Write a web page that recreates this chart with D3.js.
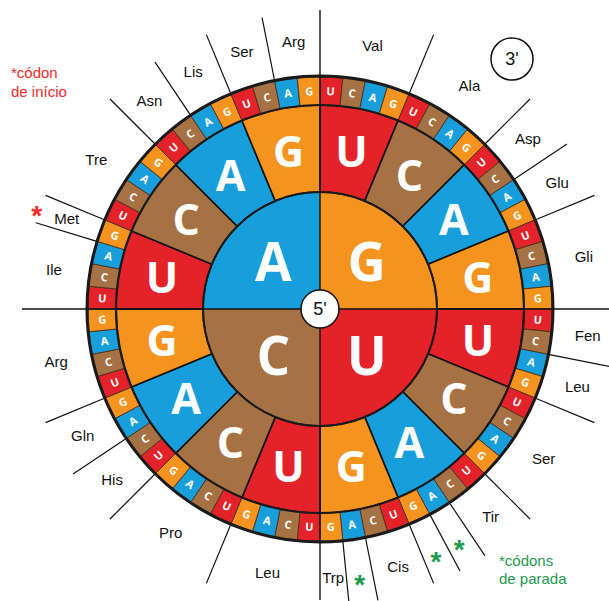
<!DOCTYPE html>
<html>
<head>
<meta charset="utf-8">
<script src="https://cdn.jsdelivr.net/npm/d3@7"></script>
<style>
  body { margin: 0; background: #fff; }
  svg { display: block; }
  .aa { font-family: "Liberation Sans", Arial, sans-serif; font-size: 15px; fill: #111; }
  .base { font-family: "Open Sans", "DejaVu Sans", sans-serif; font-weight: 700; fill: #fff; }
</style>
</head>
<body>
<svg id="chart"></svg>
<script>
// bases, clockwise from 12 o'clock
const firstBases = ['G', 'U', 'C', 'A'];
const secondBases = ['U', 'C', 'A', 'G'];
const thirdBases = ['U', 'C', 'A', 'G'];
const baseColors = { U: '#e3222a', C: '#a67244', A: '#189fdb', G: '#f5931f' };

// amino acid groups, clockwise from top, counted in codons
const aaNames = ['Val', 'Ala', 'Asp', 'Glu', 'Gli', 'Fen', 'Leu', 'Ser', 'Tir', '', '', 'Cis', '', 'Trp',
                 'Leu', 'Pro', 'His', 'Gln', 'Arg', 'Ile', 'Met', 'Tre', 'Asn', 'Lis', 'Ser', 'Arg'];
const aaCodons = [4, 4, 2, 2, 4, 2, 2, 4, 2, 1, 1, 2, 1, 1, 4, 4, 2, 2, 4, 3, 1, 4, 2, 2, 2, 2];
const stopCodons = ['UAA', 'UAG', 'UGA'];
const startCodons = ['AUG'];

const width = 609, height = 601;
const cx = 320, cy = 309;

const svg = d3.select('#chart').attr('width', width).attr('height', height);
const g = svg.append('g').attr('transform', `translate(${cx},${cy})`);

const angle = d3.scaleLinear().domain([0, 64]).range([0, 2 * Math.PI]);
const pt = (a, r) => [r * Math.sin(a), -r * Math.cos(a)];
const codonIndex = c => firstBases.indexOf(c[0]) * 16 + secondBases.indexOf(c[1]) * 4 + thirdBases.indexOf(c[2]);

// first base quadrants
const arc1 = d3.arc().innerRadius(0).outerRadius(117);
g.selectAll('.q1')
  .data(firstBases)
  .enter()
  .append('path')
    .attr('d', (d, i) => arc1({ startAngle: angle(i * 16), endAngle: angle((i + 1) * 16) }))
    .attr('fill', d => baseColors[d]);

// second base
const second = [];
firstBases.forEach((f, i) => secondBases.forEach((s, j) => second.push({ b: s, k: i * 4 + j })));
const arc2 = d3.arc().innerRadius(117).outerRadius(204);
g.selectAll('.q2')
  .data(second)
  .enter()
  .append('path')
    .attr('d', d => arc2({ startAngle: angle(d.k * 4), endAngle: angle(d.k * 4 + 4) }))
    .attr('fill', d => baseColors[d.b])
    .attr('stroke', '#111')
    .attr('stroke-width', 1.6);

// third base
const third = [];
second.forEach(s => thirdBases.forEach((t, j) => third.push({ b: t, k: s.k * 4 + j })));
const arc3 = d3.arc().innerRadius(204).outerRadius(232);
g.selectAll('.q3')
  .data(third)
  .enter()
  .append('path')
    .attr('d', d => arc3({ startAngle: angle(d.k), endAngle: angle(d.k + 1) }))
    .attr('fill', d => baseColors[d.b])
    .attr('stroke', '#4a2f1c')
    .attr('stroke-width', 0.9);

// ring outlines
[[117, 2], [204, 2.2], [233, 3]].forEach(([r, w]) => {
  g.append('circle').attr('r', r).attr('fill', 'none').attr('stroke', '#1a1a1a').attr('stroke-width', w);
});

// group separators
let acc = 0;
const bounds = aaCodons.map(n => (acc += n));
g.selectAll('.sep')
  .data(bounds.filter(b => b % 16 !== 0))
  .enter()
  .append('line')
    .attr('x1', d => pt(angle(d), 234)[0])
    .attr('y1', d => pt(angle(d), 234)[1])
    .attr('x2', d => pt(angle(d), 297)[0])
    .attr('y2', d => pt(angle(d), 297)[1])
    .attr('stroke', '#111')
    .attr('stroke-width', 1.2);

// axes through the wheel
g.append('line').attr('x1', 0).attr('x2', 0).attr('y1', 10 - cy).attr('y2', 600 - cy)
  .attr('stroke', '#111').attr('stroke-width', 1.4);
g.append('line').attr('x1', 22 - cx).attr('x2', width - cx).attr('y1', 0).attr('y2', 0)
  .attr('stroke', '#111').attr('stroke-width', 1.4);

// letters
g.selectAll('.t1')
  .data(firstBases)
  .enter()
  .append('text')
    .attr('class', 'base')
    .attr('x', (d, i) => pt(angle(i * 16 + 8), 66)[0])
    .attr('y', (d, i) => pt(angle(i * 16 + 8), 66)[1])
    .attr('dy', '0.36em')
    .attr('text-anchor', 'middle')
    .style('font-size', '53px')
    .text(d => d);

g.selectAll('.t2')
  .data(second)
  .enter()
  .append('text')
    .attr('class', 'base')
    .attr('x', d => pt(angle(d.k * 4 + 2), 161)[0])
    .attr('y', d => pt(angle(d.k * 4 + 2), 161)[1])
    .attr('dy', '0.36em')
    .attr('text-anchor', 'middle')
    .style('font-size', '43px')
    .text(d => d.b);

g.selectAll('.t3')
  .data(third)
  .enter()
  .append('text')
    .attr('class', 'base')
    .attr('transform', d => {
      const a = angle(d.k + 0.5);
      const [x, y] = pt(a, 218);
      const deg = a * 180 / Math.PI;
      const rot = ((deg + 45) % 90) - 45;
      return `translate(${x},${y}) rotate(${rot})`;
    })
    .attr('dy', '0.36em')
    .attr('text-anchor', 'middle')
    .style('font-size', '11px')
    .text(d => d.b);

// centre 5'
g.append('circle').attr('r', 19).attr('fill', '#fff').attr('stroke', '#111').attr('stroke-width', 1.5);
g.append('text').attr('class', 'aa').attr('text-anchor', 'middle').attr('dy', '0.36em')
  .style('font-size', '18px').text("5'");

// amino acid labels
let start = 0;
const labels = aaNames.map((name, i) => {
  const mid = start + aaCodons[i] / 2;
  start += aaCodons[i];
  return { name, mid };
});
g.selectAll('.lab')
  .data(labels.filter(d => d.name))
  .enter()
  .append('text')
    .attr('class', 'aa')
    .attr('x', d => pt(angle(d.mid), 269)[0])
    .attr('y', d => pt(angle(d.mid), 269)[1])
    .attr('dy', '0.36em')
    .attr('text-anchor', 'middle')
    .text(d => d.name);

// stop and start markers
g.selectAll('.stop')
  .data(stopCodons)
  .enter()
  .append('text')
    .attr('x', d => pt(angle(codonIndex(d) + 0.5), 271)[0])
    .attr('y', d => pt(angle(codonIndex(d) + 0.5), 271)[1])
    .attr('dy', '0.62em')
    .attr('text-anchor', 'middle')
    .style('font-family', 'Liberation Sans, Arial, sans-serif')
    .style('font-size', '28px')
    .style('font-weight', 700)
    .attr('fill', '#1d9a4c')
    .text('*');
g.selectAll('.start')
  .data(startCodons)
  .enter()
  .append('text')
    .attr('x', d => pt(angle(codonIndex(d) + 0.5), 301)[0])
    .attr('y', d => pt(angle(codonIndex(d) + 0.5), 301)[1])
    .attr('dy', '0.62em')
    .attr('text-anchor', 'middle')
    .style('font-family', 'Liberation Sans, Arial, sans-serif')
    .style('font-size', '28px')
    .style('font-weight', 700)
    .attr('fill', '#ee2a2a')
    .text('*');

// 3' marker
svg.append('circle').attr('cx', 512).attr('cy', 59).attr('r', 21)
  .attr('fill', 'none').attr('stroke', '#111').attr('stroke-width', 1.5);
svg.append('text').attr('class', 'aa').attr('x', 512).attr('y', 59).attr('dy', '0.36em')
  .attr('text-anchor', 'middle').style('font-size', '18px').text("3'");

// notes
const startNote = svg.append('text').attr('class', 'aa').style('fill', '#ee2a2a');
startNote.append('tspan').attr('x', 11).attr('y', 78).text('*códon');
startNote.append('tspan').attr('x', 11).attr('y', 97).text('de início');
const stopNote = svg.append('text').attr('class', 'aa').style('fill', '#1d9a4c');
stopNote.append('tspan').attr('x', 499).attr('y', 566).text('*códons');
stopNote.append('tspan').attr('x', 499).attr('y', 584).text('de parada');
</script>
</body>
</html>
